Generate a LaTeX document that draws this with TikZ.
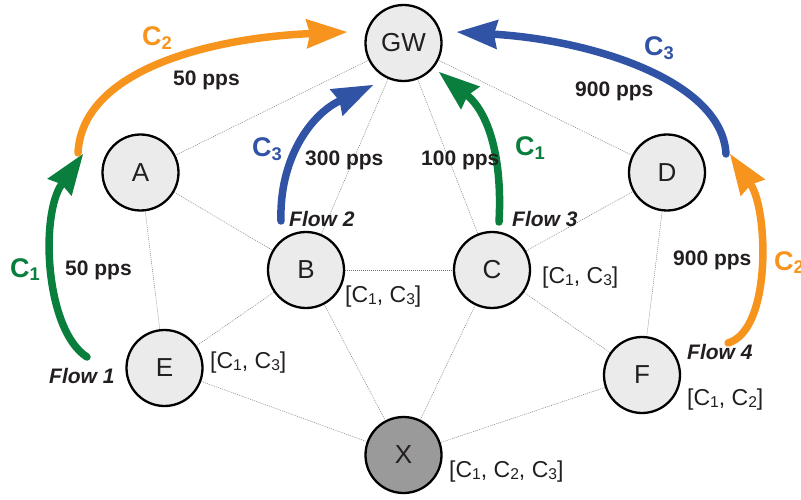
\documentclass[tikz,border=0pt]{standalone}
\usepackage{fontspec}
\setmainfont{Liberation Sans}
\usepackage{graphicx}
\usetikzlibrary{arrows.meta}
\definecolor{corange}{HTML}{F7941D}
\definecolor{cgreen}{HTML}{0A7F3D}
\definecolor{cblue}{HTML}{3153A5}
\definecolor{nfill}{HTML}{EBEBEB}
\definecolor{xfill}{HTML}{9A9A9A}
\definecolor{txt}{HTML}{231F20}
\newcommand\lowsub[1]{\raisebox{-0.12em}{\scalebox{0.68}{#1}}}
\begin{document}
\begin{tikzpicture}[x=1pt,y=-1pt,
  netnode/.style={circle,draw=black,line width=2.3pt,fill=nfill,minimum size=76pt,inner sep=0pt,
    font=\fontsize{26}{26}\selectfont,text=txt},
  link/.style={draw=black!55,line width=0.45pt,dash pattern=on 1pt off 1pt},
  flowarrow/.style={line width=7.5pt,line cap=round,
    -{Stealth[length=41pt,width=30pt,inset=4pt,line width=0pt]}},
  lbl/.style={anchor=base west,inner sep=0pt,text=txt},
  pps/.style={lbl,font=\fontsize{21}{21}\selectfont\bfseries},
  flowlbl/.style={lbl,font=\fontsize{21}{21}\selectfont\bfseries\itshape},
  clbl/.style={lbl,font=\fontsize{27}{27}\selectfont\bfseries},
  brk/.style={lbl,font=\fontsize{23}{23}\selectfont}]
\useasboundingbox (0,0) rectangle (801,500);
% nodes
\node[netnode] (GW) at (403.5,43) {GW};
\node[netnode] (A) at (140.5,172.5) {A};
\node[netnode] (D) at (667,172.5) {D};
\node[netnode] (B) at (306,270) {B};
\node[netnode] (C) at (492,270) {C};
\node[netnode] (E) at (164.5,368) {E};
\node[netnode] (F) at (642,375) {F};
\node[netnode,fill=xfill] (X) at (403.5,455) {X};
% links
\foreach \a/\b in {GW/A,GW/B,GW/C,GW/D,A/B,A/E,B/C,B/E,B/X,C/D,C/F,C/X,D/F,E/X,F/X}
  \draw[link] (\a) -- (\b);
% flow arrows
\coordinate (f1s) at (87,357);  \coordinate (f1e) at (83,154);
\coordinate (o1s) at (78,153);  \coordinate (o1e) at (347,32);
\coordinate (b1s) at (281,221); \coordinate (b1e) at (373,85);
\coordinate (g2s) at (499,222); \coordinate (g2e) at (439,72);
\coordinate (b2s) at (726,154); \coordinate (b2e) at (457,32);
\coordinate (o2s) at (728,343); \coordinate (o2e) at (730,154);
\draw[flowarrow,cgreen] (f1s) .. controls (45,330) and (40,215) .. (f1e);
\draw[flowarrow,corange] (o1s) .. controls (82,70) and (210,38) .. (o1e);
\draw[flowarrow,cblue] (b1s) .. controls (279,160) and (310,115) .. (b1e);
\draw[flowarrow,cgreen] (g2s) .. controls (503,150) and (485,110) .. (g2e);
\draw[flowarrow,cblue] (b2s) .. controls (722,80) and (590,40) .. (b2e);
\draw[flowarrow,corange] (o2s) .. controls (772,330) and (768,210) .. (o2e);
% class labels
\node[clbl,text=corange] (lc2a) at (142,46) {C\lowsub{2}};
\node[clbl,text=cblue] (lc3a) at (252,157) {C\lowsub{3}};
\node[clbl,text=cgreen] (lc1a) at (515,156) {C\lowsub{1}};
\node[clbl,text=cblue] (lc3b) at (644,56) {C\lowsub{3}};
\node[clbl,text=cgreen] (lc1b) at (10,277) {C\lowsub{1}};
\node[clbl,text=corange] (lc2b) at (774,270) {C\lowsub{2}};
% rates
\node[pps] (r1) at (173,86) {50 pps};
\node[pps] (r2) at (305,166) {300 pps};
\node[pps] (r3) at (421,166) {100 pps};
\node[pps] (r4) at (575,97) {900 pps};
\node[pps] (r5) at (65,275) {50 pps};
\node[pps] (r6) at (673,265) {900 pps};
% flow names
\node[flowlbl] (fl1) at (49,383) {Flow 1};
\node[flowlbl] (fl2) at (289,226) {Flow 2};
\node[flowlbl] (fl3) at (512,226) {Flow 3};
\node[flowlbl] (fl4) at (687,359) {Flow 4};
% brackets
\node[brk] (kB) at (345,302) {[C\lowsub{1}, C\lowsub{3}]};
\node[brk] (kC) at (542,283) {[C\lowsub{1}, C\lowsub{3}]};
\node[brk] (kE) at (210,368) {[C\lowsub{1}, C\lowsub{3}]};
\node[brk] (kF) at (687,405) {[C\lowsub{1}, C\lowsub{2}]};
\node[brk] (kX) at (449,477) {[C\lowsub{1}, C\lowsub{2}, C\lowsub{3}]};
\end{tikzpicture}
\end{document}
